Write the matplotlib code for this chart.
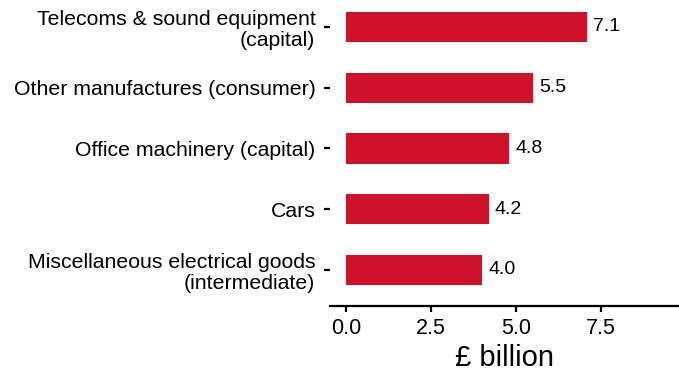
import matplotlib
matplotlib.use('Agg')
import matplotlib.pyplot as plt

plt.rcParams['font.family'] = ['Liberation Sans', 'DejaVu Sans']

# data (bottom to top)
categories = ['Miscellaneous electrical goods\n(intermediate)', 'Cars',
              'Office machinery (capital)', 'Other manufactures (consumer)',
              'Telecoms & sound equipment\n(capital)']
values = [4.0, 4.2, 4.8, 5.5, 7.1]
xticks = [0, 2.5, 5.0, 7.5]

bar_color = '#D0112B'

fig = plt.figure(figsize=(6.79, 3.73), dpi=100)
ax = fig.add_axes([330 / 679, 1 - 306 / 373, 1 - 330 / 679, 306 / 373])

pos = list(range(len(categories)))
ax.barh(pos, values, height=0.5, color=bar_color)
for p, v in zip(pos, values):
    ax.text(v + 0.18, p, f'{v:.1f}', va='center', ha='left', fontsize=14)

ax.set_xlim(-0.47, 9.8)
ax.set_ylim(-0.593, 4.444)
ax.set_yticks(pos)
ax.set_yticklabels(categories, fontsize=15.3, ha='right', multialignment='right',
                   linespacing=1.15)
ax.set_xticks(xticks)
ax.set_xticklabels([f'{t:.1f}' for t in xticks], fontsize=15.5)
ax.set_xlabel('£ billion', fontsize=21, labelpad=3)

for s in ['top', 'right', 'left']:
    ax.spines[s].set_visible(False)
ax.spines['bottom'].set_linewidth(1.6)
ax.tick_params(axis='y', length=4.5, width=1.6, pad=6)
ax.tick_params(axis='x', length=4, width=1.6, pad=5)

fig.savefig('out.png', dpi=100)
